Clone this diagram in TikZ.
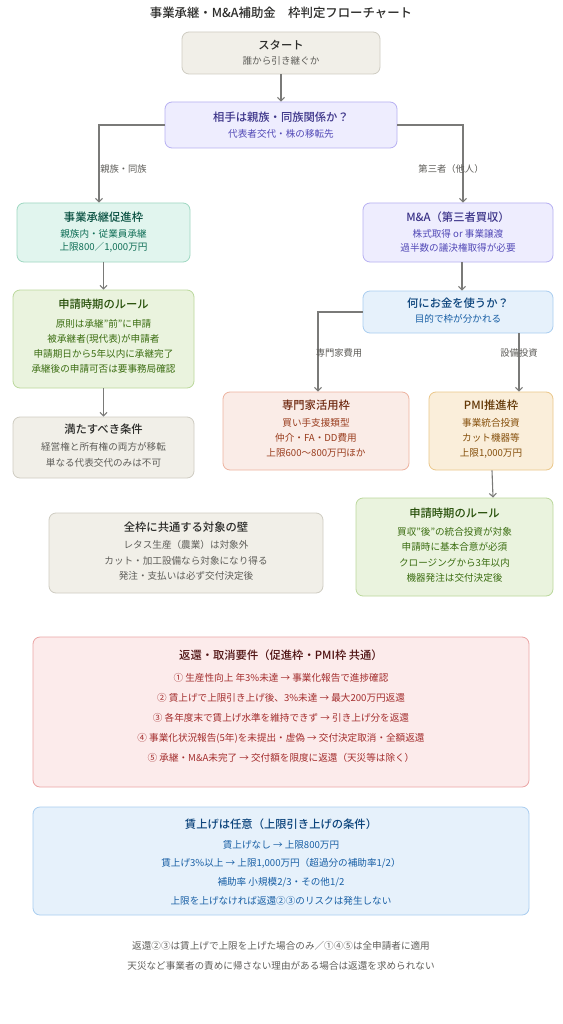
\documentclass[tikz,border=0pt]{standalone}
\usepackage{fontspec}
\setmainfont{Noto Sans CJK JP}[BoldFont={Noto Sans CJK JP Medium}]
\usetikzlibrary{arrows.meta}
\definecolor{edge}{HTML}{7A7A78}
\definecolor{lbl}{HTML}{5F5E5A}
\definecolor{grayF}{HTML}{F1EFE8}\definecolor{grayD}{HTML}{CFCCC2}\definecolor{grayT}{HTML}{2C2C2A}\definecolor{grayS}{HTML}{5F5E5A}
\definecolor{purF}{HTML}{EEEDFE}\definecolor{purD}{HTML}{B7B0F2}\definecolor{purT}{HTML}{3C3489}\definecolor{purS}{HTML}{534AB7}
\definecolor{tealF}{HTML}{E1F5EE}\definecolor{tealD}{HTML}{9FD8C2}\definecolor{tealT}{HTML}{085041}\definecolor{tealS}{HTML}{0F6E56}
\definecolor{grnF}{HTML}{EAF3DE}\definecolor{grnD}{HTML}{BBD89C}\definecolor{grnT}{HTML}{27500A}\definecolor{grnS}{HTML}{3B6D11}
\definecolor{bluF}{HTML}{E6F1FB}\definecolor{bluD}{HTML}{A9CDF0}\definecolor{bluT}{HTML}{0C447C}\definecolor{bluS}{HTML}{185FA5}
\definecolor{corF}{HTML}{FAECE7}\definecolor{corD}{HTML}{EDB3A0}\definecolor{corT}{HTML}{712B13}\definecolor{corS}{HTML}{993C1D}
\definecolor{ambF}{HTML}{FAEEDA}\definecolor{ambD}{HTML}{EBC78A}\definecolor{ambT}{HTML}{633806}\definecolor{ambS}{HTML}{854F0B}
\definecolor{redF}{HTML}{FCEBEB}\definecolor{redD}{HTML}{EBA5A5}\definecolor{redT}{HTML}{501313}\definecolor{redS}{HTML}{A32D2D}
\tikzset{
  box/.style={rounded corners=7pt, line width=0.8pt, inner sep=0pt},
  graybox/.style={box, fill=grayF, draw=grayD},
  purbox/.style={box, fill=purF, draw=purD},
  tealbox/.style={box, fill=tealF, draw=tealD},
  grnbox/.style={box, fill=grnF, draw=grnD},
  blubox/.style={box, fill=bluF, draw=bluD},
  corbox/.style={box, fill=corF, draw=corD},
  ambbox/.style={box, fill=ambF, draw=ambD},
  redbox/.style={box, fill=redF, draw=redD},
  ttl/.style={font=\fontsize{11.3}{13}\selectfont\bfseries, inner sep=0pt},
  sub/.style={font=\fontsize{9.6}{11}\selectfont, inner sep=0pt},
  elbl/.style={font=\fontsize{9.3}{11}\selectfont, inner sep=0pt, text=lbl},
  arr/.style={draw=edge, line width=1.1pt, -{Straight Barb[length=3.5pt,width=7pt]}},
}
\begin{document}
\begin{tikzpicture}[x=1pt,y=-1pt]
\useasboundingbox[fill=white] (0,0) rectangle (562,1024);
% title
\node[font=\fontsize{12.4}{14}\selectfont\bfseries, text=grayT, inner sep=0pt] (title) at (281,13) {事業承継・M\&A補助金　枠判定フローチャート};
% boxes
\node[graybox, minimum width=198pt, minimum height=42pt] (start) at (281,53) {};
\node[purbox, minimum width=232pt, minimum height=46pt] (dec) at (281,125) {};
\node[tealbox, minimum width=173pt, minimum height=59pt] (promo) at (103.5,232.5) {};
\node[grnbox, minimum width=181pt, minimum height=98pt] (ruleL) at (103.5,339) {};
\node[graybox, minimum width=181pt, minimum height=61pt] (cond) at (103.5,447.5) {};
\node[purbox, minimum width=190pt, minimum height=59pt] (mna) at (458,232.5) {};
\node[blubox, minimum width=190pt, minimum height=42pt] (what) at (458,312) {};
\node[corbox, minimum width=186pt, minimum height=78pt] (expert) at (316,431) {};
\node[ambbox, minimum width=124pt, minimum height=78pt] (pmi) at (491,431) {};
\node[grnbox, minimum width=197pt, minimum height=98pt] (ruleR) at (454.5,547) {};
\node[graybox, minimum width=274pt, minimum height=80pt] (wall) at (186,553) {};
\node[redbox, minimum width=496pt, minimum height=150pt] (refund) at (281,712) {};
\node[blubox, minimum width=496pt, minimum height=108pt] (wage) at (281,861) {};
% texts
\node[ttl, text=grayT] (s1) at (281,45) {スタート};
\node[sub, text=grayS] (s2) at (281,61) {誰から引き継ぐか};
\node[ttl, text=purT] (d1) at (281,117) {相手は親族・同族関係か？};
\node[sub, text=purS] (d2) at (281,134) {代表者交代・株の移転先};
\node[ttl, text=tealT] (p1) at (103.5,217) {事業承継促進枠};
\node[sub, text=tealS] (p2) at (103.5,234) {親族内・従業員承継};
\node[sub, text=tealS] (p3) at (103.5,247.5) {上限800／1,000万円};
\node[ttl, text=grnT] (l1) at (103.5,304) {申請時期のルール};
\node[sub, text=grnS] (l2) at (103.5,324) {原則は承継"前"に申請};
\node[sub, text=grnS] (l3) at (103.5,339) {被承継者(現代表)が申請者};
\node[sub, text=grnS] (l4) at (103.5,354) {申請期日から5年以内に承継完了};
\node[sub, text=grnS] (l5) at (103.5,369) {承継後の申請可否は要事務局確認};
\node[ttl, text=grayT] (c1) at (103.5,429) {満たすべき条件};
\node[sub, text=grayS] (c2) at (103.5,447) {経営権と所有権の両方が移転};
\node[sub, text=grayS] (c3) at (103.5,463) {単なる代表交代のみは不可};
\node[ttl, text=purT] (m1) at (458,217) {M\&A（第三者買収）};
\node[sub, text=purS] (m2) at (458,234) {株式取得 or 事業譲渡};
\node[sub, text=purS] (m3) at (458,247.5) {過半数の議決権取得が必要};
\node[ttl, text=bluT] (w1) at (458,303) {何にお金を使うか？};
\node[sub, text=bluS] (w2) at (458,318.5) {目的で枠が分かれる};
\node[ttl, text=corT] (e1) at (316,405) {専門家活用枠};
\node[sub, text=corS] (e2) at (316,422.5) {買い手支援類型};
\node[sub, text=corS] (e3) at (316,437.5) {仲介・FA・DD費用};
\node[sub, text=corS] (e4) at (316,453) {上限600～800万円ほか};
\node[ttl, text=ambT] (q1) at (491,405) {PMI推進枠};
\node[sub, text=ambS] (q2) at (491,422.5) {事業統合投資};
\node[sub, text=ambS] (q3) at (491,437.5) {カット機器等};
\node[sub, text=ambS] (q4) at (491,453) {上限1,000万円};
\node[ttl, text=grnT] (r1) at (454.5,513) {申請時期のルール};
\node[sub, text=grnS] (r2) at (454.5,532) {買収"後"の統合投資が対象};
\node[sub, text=grnS] (r3) at (454.5,547) {申請時に基本合意が必須};
\node[sub, text=grnS] (r4) at (454.5,562.5) {クロージングから3年以内};
\node[sub, text=grnS] (r5) at (454.5,578) {機器発注は交付決定後};
\node[ttl, text=grayT] (a1) at (186,527) {全枠に共通する対象の壁};
\node[sub, text=grayS] (a2) at (186,544.5) {レタス生産（農業）は対象外};
\node[sub, text=grayS] (a3) at (186,560.5) {カット・加工設備なら対象になり得る};
\node[sub, text=grayS] (a4) at (186,576) {発注・支払いは必ず交付決定後};
\node[ttl, text=redT] (f1) at (281,655) {返還・取消要件（促進枠・PMI枠 共通）};
\node[sub, text=redS] (f2) at (281,678) {① 生産性向上 年3\%未達 → 事業化報告で進捗確認};
\node[sub, text=redS] (f3) at (281,698) {② 賃上げで上限引き上げ後、3\%未達 → 最大200万円返還};
\node[sub, text=redS] (f4) at (281,718) {③ 各年度末で賃上げ水準を維持できず → 引き上げ分を返還};
\node[sub, text=redS] (f5) at (281,738) {④ 事業化状況報告(5年)を未提出・虚偽 → 交付決定取消・全額返還};
\node[sub, text=redS] (f6) at (281,758) {⑤ 承継・M\&A未完了 → 交付額を限度に返還（天災等は除く）};
\node[ttl, text=bluT] (g1) at (281,824) {賃上げは任意（上限引き上げの条件）};
\node[sub, text=bluS] (g2) at (281,845) {賃上げなし → 上限800万円};
\node[sub, text=bluS] (g3) at (281,863.5) {賃上げ3\%以上 → 上限1,000万円（超過分の補助率1/2）};
\node[sub, text=bluS] (g4) at (281,882) {補助率 小規模2/3・その他1/2};
\node[sub, text=bluS] (g5) at (281,900.5) {上限を上げなければ返還②③のリスクは発生しない};
\node[sub, text=lbl] (n1) at (281,946) {返還②③は賃上げで上限を上げた場合のみ／①④⑤は全申請者に適用};
\node[sub, text=lbl] (n2) at (281,965.5) {天災など事業者の責めに帰さない理由がある場合は返還を求められない};
% connectors
\draw[arr] (start) -- (dec);
\draw[arr] (dec.west) -| ([xshift=-4.5pt]promo.north);
\draw[arr] (dec.east) -| ([xshift=5pt]mna.north);
\draw[arr] (promo) -- (ruleL);
\draw[arr] (ruleL) -- (cond);
\draw[arr] ([xshift=4pt]mna.south) -- ([xshift=4pt]what.north);
\draw[arr] (what.west) -| ([xshift=2pt]expert.north);
\draw[arr] ([xshift=61pt]what.south) -- ([xshift=28pt]pmi.north);
\draw[arr] ([xshift=1pt]pmi.south) -- ([xshift=38.5pt]ruleR.north);
% edge labels
\node[elbl] (k1) at (123.5,169) {親族・同族};
\node[elbl] (k2) at (451,169) {第三者（他人）};
\node[elbl] (k3) at (339,353) {専門家費用};
\node[elbl] (k4) at (519,353) {設備投資};
\end{tikzpicture}
\end{document}
